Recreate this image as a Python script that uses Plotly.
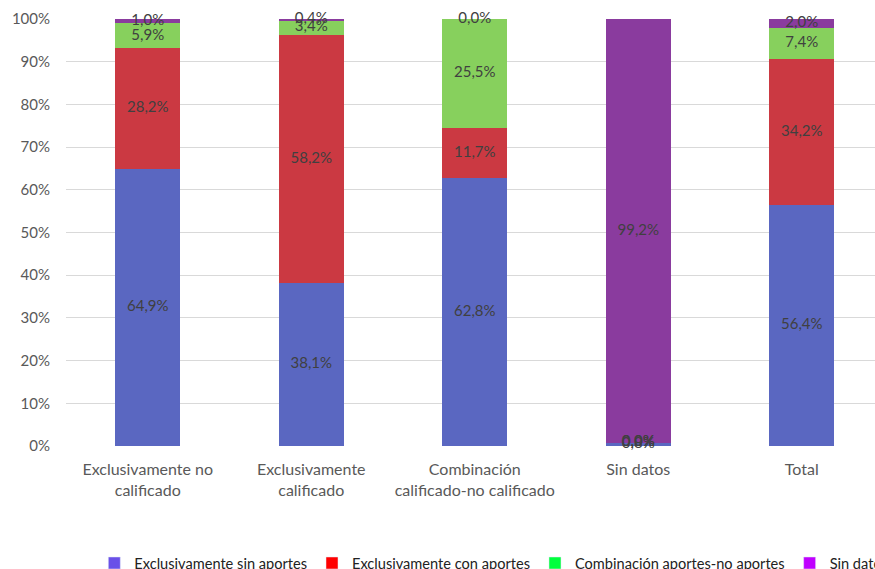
import plotly.graph_objects as go

categories = ["Exclusivamente no<br>calificado", "Exclusivamente<br>calificado",
              "Combinación<br>calificado-no calificado", "Sin datos", "Total"]

series_names = ["Exclusivamente sin aportes", "Exclusivamente con aportes",
                "Combinación aportes-no aportes", "Sin datos"]

sin_aportes = [64.9, 38.1, 62.8, 0.8, 56.4]
con_aportes = [28.2, 58.2, 11.7, 0.0, 34.2]
combinacion = [5.9, 3.4, 25.5, 0.0, 7.4]
sin_datos = [1.0, 0.4, 0.0, 99.2, 2.0]

values = [sin_aportes, con_aportes, combinacion, sin_datos]
bar_colors = ["#5a67c1", "#cb3942", "#87d05d", "#8a3b9e"]
legend_colors = ["#6a50e8", "#ff0000", "#00ff3c", "#c000ff"]

tick_vals = [0, 10, 20, 30, 40, 50, 60, 70, 80, 90, 100]
tick_text = [f"{v}%" for v in tick_vals]

FONT = "Lato, Open Sans, sans-serif"


def pct(v):
    return f"{v:.1f}%".replace(".", ",")


fig = go.Figure()

# stacked segments
for name, vals, col in zip(series_names, values, bar_colors):
    fig.add_trace(go.Bar(
        x=categories, y=vals, name=name, showlegend=False,
        marker=dict(color=col, line=dict(width=0)),
        width=0.4, hoverinfo="skip",
    ))

# value labels centred on each segment (zero-height segments included)
base = [0.0] * len(categories)
for name, vals in zip(series_names, values):
    mids = [b + v / 2 for b, v in zip(base, vals)]
    fig.add_trace(go.Scatter(
        x=categories, y=mids, mode="text", text=[pct(v) for v in vals],
        textposition="middle center", showlegend=False, hoverinfo="skip",
        textfont=dict(family=FONT, size=15, color="#404040"), cliponaxis=False,
    ))
    base = [b + v for b, v in zip(base, vals)]

# legend entries carry their own swatch colours
for name, col in zip(series_names, legend_colors):
    fig.add_trace(go.Bar(
        x=[None], y=[None], name=name, showlegend=True,
        marker=dict(color=col),
    ))

fig.update_layout(
    barmode="stack",
    width=875, height=569,
    margin=dict(l=66, r=0, t=19, b=123, autoexpand=False),
    paper_bgcolor="white", plot_bgcolor="white",
    font=dict(family=FONT, size=14, color="#595959"),
    showlegend=True,
    legend=dict(orientation="h", x=0.035, xanchor="left", y=-0.274, yanchor="middle",
                font=dict(family=FONT, size=14.6, color="#222222"),
                itemwidth=30, traceorder="normal", tracegroupgap=0),
    xaxis=dict(range=[-0.5, 4.448], showgrid=False, showline=False, zeroline=False,
               ticks="", ticklabelstandoff=12,
               tickfont=dict(size=16, color="#595959"), fixedrange=True),
    yaxis=dict(range=[0, 100], tickvals=tick_vals, ticktext=tick_text,
               showgrid=True, gridcolor="#d9d9d9", gridwidth=1, zeroline=False,
               showline=False, ticks="", ticklabelstandoff=15,
               tickfont=dict(size=15, color="#595959")),
)

fig.write_html("out.html")
